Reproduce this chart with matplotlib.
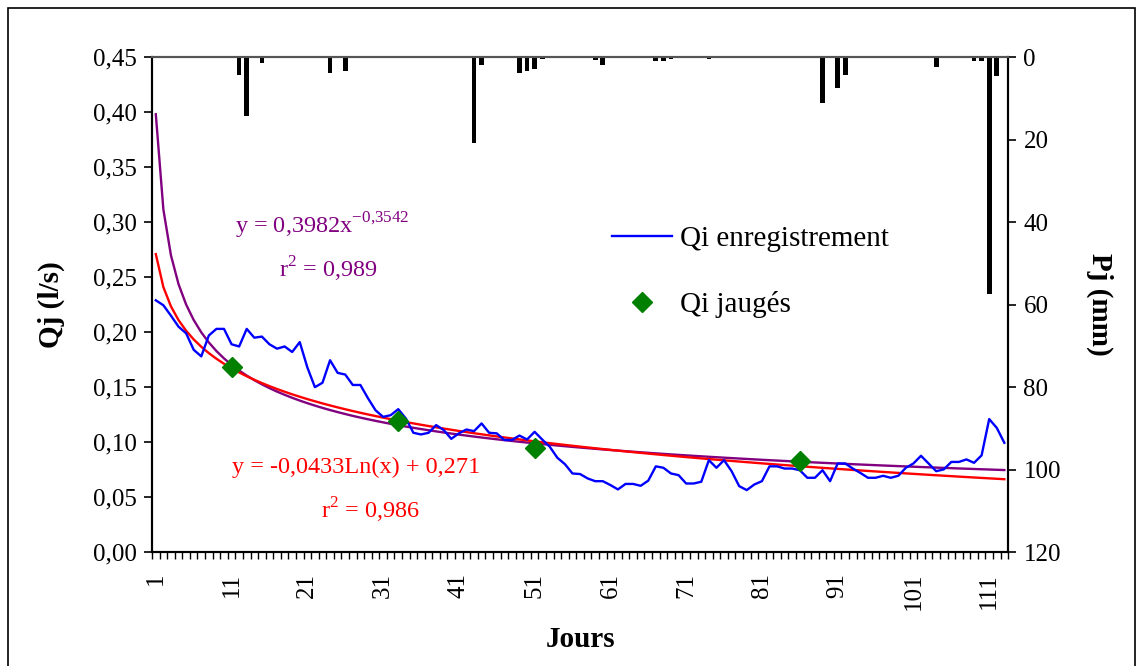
import numpy
import matplotlib
matplotlib.use("Agg")
import matplotlib.pyplot as plt
from matplotlib.ticker import FuncFormatter
from matplotlib.patches import Rectangle

# ── Data ──────────────────────────────────────────────────────────────────────
days = numpy.arange(1, 114)

qi_record = [
    0.229, 0.2245, 0.215, 0.205, 0.199, 0.184, 0.178, 0.197, 0.203, 0.203,
    0.189, 0.187, 0.203, 0.195, 0.196, 0.189, 0.185, 0.187, 0.182, 0.191,
    0.168, 0.150, 0.154, 0.1745, 0.163, 0.1615, 0.152, 0.152, 0.140, 0.129,
    0.123, 0.1245, 0.130, 0.1215, 0.1085, 0.107, 0.1085, 0.1155, 0.111, 0.103,
    0.108, 0.1115, 0.110, 0.117, 0.1085, 0.108, 0.102, 0.102, 0.106, 0.1024,
    0.1094, 0.1024, 0.0958, 0.0858, 0.080, 0.0715, 0.071, 0.067, 0.0645, 0.0645,
    0.061, 0.057, 0.062, 0.062, 0.0603, 0.065, 0.078, 0.0767, 0.0715, 0.070,
    0.0624, 0.0624, 0.064, 0.0836, 0.0767, 0.0836, 0.0736, 0.060, 0.0564, 0.0615,
    0.0645, 0.078, 0.078, 0.076, 0.076, 0.0745, 0.0676, 0.0676, 0.0745, 0.0645,
    0.0806, 0.0806, 0.076, 0.072, 0.0676, 0.0676, 0.0694, 0.0676, 0.0694, 0.0767,
    0.0806, 0.0876, 0.0806, 0.0736, 0.0752, 0.082, 0.082, 0.0843, 0.0812, 0.088,
    0.121, 0.113, 0.0994,
]

gauged_days = [11, 33, 51, 86]
gauged_q = [0.168, 0.1194, 0.0948, 0.0827]

rain_days = [12, 13, 15, 24, 26, 43, 44, 49, 50, 51, 52, 59, 60, 67, 68, 69,
             74, 89, 91, 92, 104, 109, 110, 111, 112]
rain_mm = [4.3, 14.2, 1.4, 3.8, 3.3, 20.8, 1.9, 3.8, 3.3, 2.8, 0.4, 0.6, 1.9,
           0.9, 0.9, 0.3, 0.4, 11.2, 7.4, 4.2, 2.3, 0.9, 0.9, 57.3, 4.6]

# trendline coefficients as printed on the chart
log_a, log_b = -0.0433, 0.271
pow_a, pow_b = 0.3982, -0.3542

# ── Style ─────────────────────────────────────────────────────────────────────
plt.rcParams["font.family"] = ["Liberation Serif", "DejaVu Serif"]
plt.rcParams["mathtext.fontset"] = "custom"
plt.rcParams["mathtext.rm"] = "Liberation Serif"

comma = FuncFormatter(lambda v, pos: f"{v:.2f}".replace(".", ","))

TICK_FS = 18
NOTE_FS = 17.5
LABEL_FS = 21

fig = plt.figure(figsize=(11.43, 6.66), dpi=100)
ax = fig.add_axes([0.133, 0.171, 0.749, 0.743])
ax2 = ax.twinx()

# rainfall hanging from the top
ax2.bar(rain_days, rain_mm, width=0.62, color="black", zorder=2)
ax2.set_ylim(120, 0)
ax2.set_yticks(numpy.arange(0, 121, 20))
ax2.tick_params(axis="y", direction="out", length=6, width=1.2, labelsize=TICK_FS, pad=5)
ax2.set_ylabel("Pj (mm)", fontsize=LABEL_FS, fontweight="bold", rotation=270, labelpad=38)

# flow series and trendlines
ax.set_zorder(ax2.get_zorder() + 1)
ax.patch.set_visible(False)
x = days.astype(float)
ax.plot(x, pow_a * x ** pow_b, color="#800080", lw=1.7, zorder=3)
ax.plot(x, log_a * numpy.log(x) + log_b, color="#FF0000", lw=1.7, zorder=3)
ax.plot(days, qi_record, color="#0000FF", lw=1.7, zorder=4, label="Qi enregistrement")
ax.plot(gauged_days, gauged_q, linestyle="none", marker="D", markersize=10,
        color="#008000", zorder=5, label="Qi jaugés")

ax.set_xlim(0.5, 113.5)
ax.set_ylim(0, 0.45)
ax.set_yticks(numpy.arange(0, 0.451, 0.05))
ax.yaxis.set_major_formatter(comma)
ax.tick_params(axis="y", direction="out", length=6, width=1.2, labelsize=TICK_FS, pad=5)

# category axis: ticks between days, labels every 10 days
ax.set_xticks(numpy.arange(0.5, 114, 1.0))
ax.set_xticklabels([])
ax.tick_params(axis="x", which="major", direction="out", length=5, width=1.0)
label_days = numpy.arange(1, 114, 10)
ax.set_xticks(label_days, minor=True)
ax.set_xticklabels([str(d) for d in label_days], minor=True, rotation=90, fontsize=TICK_FS)
ax.tick_params(axis="x", which="minor", length=0, pad=15)

ax.set_ylabel("Qj (l/s)", fontsize=LABEL_FS, fontweight="bold", labelpad=20)
ax.set_xlabel("Jours", fontsize=LABEL_FS, fontweight="bold", labelpad=11)

for a in (ax, ax2):
    for side in ("left", "right", "bottom"):
        a.spines[side].set_linewidth(1.5)
    a.spines["top"].set_color("#555555")
    a.spines["top"].set_linewidth(1.5)

# trendline equations
ax.text(23.0, 0.297, r"y = 0,3982x$^{\mathregular{-0{,}3542}}$", color="#800080",
        fontsize=NOTE_FS, ha="center", va="center")
ax.text(23.8, 0.257, r"r$^{\mathregular{2}}$ = 0,989", color="#800080",
        fontsize=NOTE_FS, ha="center", va="center")
ax.text(27.4, 0.077, "y = -0,0433Ln(x) + 0,271", color="#FF0000",
        fontsize=NOTE_FS, ha="center", va="center")
ax.text(29.3, 0.038, r"r$^{\mathregular{2}}$ = 0,986", color="#FF0000",
        fontsize=NOTE_FS, ha="center", va="center")

ax.legend(loc="upper left", bbox_to_anchor=(0.537, 0.66), frameon=False,
          fontsize=21, handlelength=2.05, handletextpad=0.3, labelspacing=1.35,
          borderpad=0, borderaxespad=0)

# outer frame round the chart
fig.patches.append(Rectangle((8 / 1143, -0.05), 1127 / 1143, 0.05 + 658 / 666,
                             transform=fig.transFigure, fill=False,
                             edgecolor="black", lw=1.2))

fig.savefig("out.png", dpi=100)
